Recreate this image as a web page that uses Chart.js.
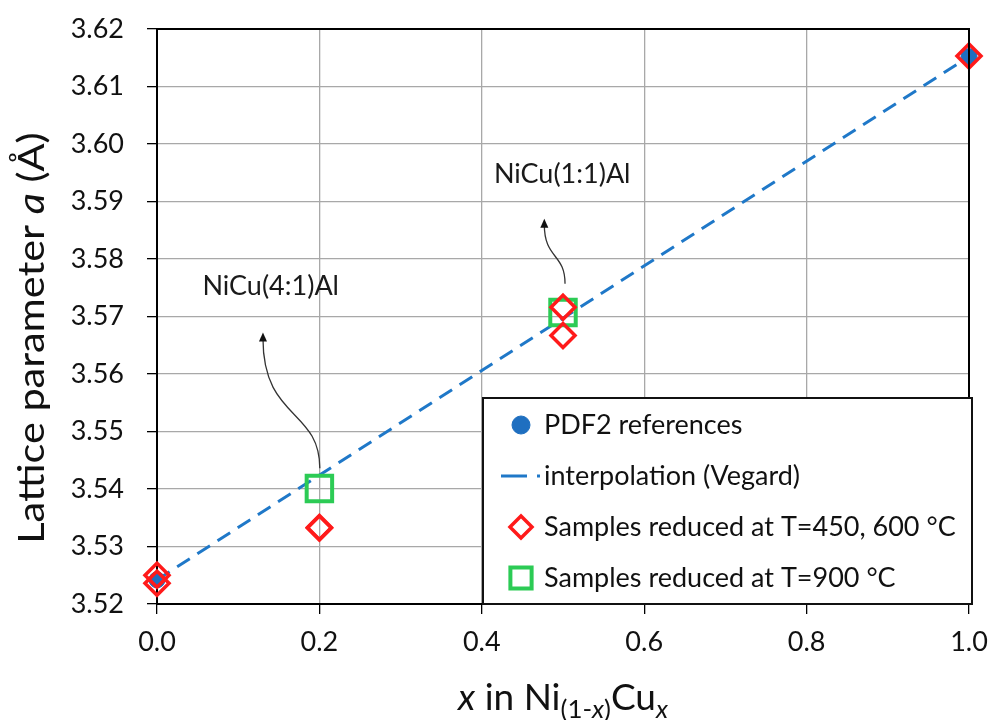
<!DOCTYPE html>
<html>
<head>
<meta charset="utf-8">
<script src="https://cdn.jsdelivr.net/npm/chart.js@4.4.0/dist/chart.umd.min.js"></script>
<style>
    html, body { margin: 0; padding: 0; background: #fff; }
</style>
</head>
<body>
<canvas id="latticeChart" width="995" height="720"></canvas>
<script>
// reference values (PDF2) and Vegard line between pure Ni and pure Cu
const refX = [0, 1];
const refY = [3.5242, 3.6152];
const vegardX = [0, 1];
const vegardY = [3.5242, 3.6152];
// samples reduced at 450 / 600 C
const lowTX = [0, 0, 0.2, 0.2, 0.5, 0.5, 1];
const lowTY = [3.5250, 3.5236, 3.5333, 3.5332, 3.5716, 3.5667, 3.6153];
// samples reduced at 900 C
const highTX = [0.2, 0.5];
const highTY = [3.5401, 3.5707];

const seriesNames = ['PDF2 references', 'interpolation (Vegard)', 'Samples reduced at T=450, 600 °C', 'Samples reduced at T=900 °C'];
const xTicks = [0, 0.2, 0.4, 0.6, 0.8, 1.0];
const yTicks = [3.52, 3.53, 3.54, 3.55, 3.56, 3.57, 3.58, 3.59, 3.60, 3.61, 3.62];

// annotation labels and curved arrows (data coords)
const noteText = ['NiCu(4:1)Al', 'NiCu(1:1)Al'];
const noteX = [0.140, 0.499];
const noteY = [3.5752, 3.5947];
const arrowPts = [
    [[0.2005, 3.5436], [0.2005, 3.5540], [0.1305, 3.5520], [0.1305, 3.5672]],
    [[0.5025, 3.5757], [0.5025, 3.5810], [0.4770, 3.5800], [0.4770, 3.5870]]
];

const FONT = 'Lato, "Open Sans", sans-serif';
const BLUE = '#1f6fc0';
const RED = '#ff1a1a';
const GREEN = '#2ccb55';

function pts(xs, ys) {
    return xs.map((x, i) => ({x: x, y: ys[i]}));
}

// draw a line of text made of parts {t, it, sub}
function richText(ctx, parts, x, y, size) {
    let widths = parts.map(p => {
        ctx.font = (p.it ? 'italic ' : '') + (p.sub ? size * 0.7 : size) + 'px ' + FONT;
        return ctx.measureText(p.t).width;
    });
    let total = widths.reduce((a, b) => a + b, 0);
    let cx = x - total / 2;
    ctx.textAlign = 'left';
    ctx.textBaseline = 'alphabetic';
    parts.forEach((p, i) => {
        ctx.font = (p.it ? 'italic ' : '') + (p.sub ? size * 0.7 : size) + 'px ' + FONT;
        ctx.fillText(p.t, cx, y + (p.sub ? size * 0.22 : 0));
        cx += widths[i];
    });
}

const decorPlugin = {
    id: 'decor',
    afterDraw(chart) {
        const ctx = chart.ctx;
        const ca = chart.chartArea;
        const xs = chart.scales.x, ys = chart.scales.y;
        ctx.save();

        // top and right frame
        ctx.strokeStyle = '#000';
        ctx.lineWidth = 2;
        ctx.beginPath();
        ctx.moveTo(ca.left, ca.top);
        ctx.lineTo(ca.right, ca.top);
        ctx.lineTo(ca.right, ca.bottom);
        ctx.stroke();

        // annotation arrows
        ctx.strokeStyle = '#333';
        ctx.fillStyle = '#111';
        ctx.lineWidth = 1.3;
        arrowPts.forEach(a => {
            let p = a.map(q => [xs.getPixelForValue(q[0]), ys.getPixelForValue(q[1])]);
            ctx.beginPath();
            ctx.moveTo(p[0][0], p[0][1]);
            ctx.bezierCurveTo(p[1][0], p[1][1], p[2][0], p[2][1], p[3][0], p[3][1] + 6);
            ctx.stroke();
            ctx.beginPath();
            ctx.moveTo(p[3][0], p[3][1]);
            ctx.lineTo(p[3][0] - 4, p[3][1] + 9);
            ctx.lineTo(p[3][0] + 4, p[3][1] + 9);
            ctx.closePath();
            ctx.fill();
        });

        // annotation texts
        ctx.fillStyle = '#1a1a1a';
        ctx.font = '27px ' + FONT;
        ctx.textAlign = 'center';
        ctx.textBaseline = 'middle';
        noteText.forEach((t, i) => {
            ctx.fillText(t, xs.getPixelForValue(noteX[i]), ys.getPixelForValue(noteY[i]));
        });

        // legend box
        let bx = ca.right - 486, by = ca.bottom - 206, bw = 489, bh = 206;
        ctx.fillStyle = '#fff';
        ctx.fillRect(bx, by, bw, bh);
        ctx.strokeStyle = '#111';
        ctx.lineWidth = 2;
        ctx.strokeRect(bx, by, bw, bh);
        chart.data.datasets.forEach((ds, i) => {
            let ry = by + 27 + i * 51;
            let mx = bx + 38;
            if (ds.showLine) {
                ctx.strokeStyle = ds.borderColor;
                ctx.lineWidth = 3;
                ctx.beginPath();
                ctx.moveTo(bx + 18, ry);
                ctx.lineTo(bx + 44, ry);
                ctx.moveTo(bx + 54, ry);
                ctx.lineTo(bx + 57, ry);
                ctx.stroke();
            } else {
                ctx.fillStyle = ds.backgroundColor;
                ctx.strokeStyle = ds.borderColor;
                ctx.lineWidth = ds.pointBorderWidth;
                let r = ds.pointStyle === 'circle' ? 9 : (ds.pointStyle === 'rect' ? 15 : 11);
                Chart.helpers.drawPoint(ctx, {pointStyle: ds.pointStyle, rotation: 0, radius: r, borderWidth: ds.pointBorderWidth}, mx, ry);
            }
            ctx.fillStyle = '#111';
            ctx.font = '27px ' + FONT;
            ctx.textAlign = 'left';
            ctx.textBaseline = 'middle';
            ctx.fillText(ds.label, bx + 61, ry);
        });

        // axis titles
        ctx.fillStyle = '#111';
        ctx.save();
        ctx.translate(44, 338);
        ctx.rotate(-Math.PI / 2);
        ctx.scale(1.12, 1);
        richText(ctx, [{t: 'Lattice parameter '}, {t: 'a', it: true}, {t: ' (Å)'}], 0, 0, 37);
        ctx.restore();
        richText(ctx, [{t: 'x', it: true}, {t: ' in Ni'}, {t: '(1-', sub: true}, {t: 'x', sub: true, it: true}, {t: ')', sub: true}, {t: 'Cu'}, {t: 'x', sub: true, it: true}], (ca.left + ca.right) / 2, 710, 37);

        ctx.restore();
    }
};

new Chart(document.getElementById('latticeChart').getContext('2d'), {
    type: 'scatter',
    data: {
        datasets: [{
            label: seriesNames[0],
            data: pts(refX, refY),
            pointStyle: 'circle',
            pointRadius: 8,
            backgroundColor: BLUE,
            borderColor: BLUE,
            pointBorderWidth: 1,
            clip: false,
            order: 3
        }, {
            label: seriesNames[1],
            data: pts(vegardX, vegardY),
            showLine: true,
            borderColor: '#1f78c8',
            borderWidth: 3,
            borderDash: [15, 9],
            pointRadius: 0,
            clip: false,
            order: 4
        }, {
            label: seriesNames[2],
            data: pts(lowTX, lowTY),
            pointStyle: 'rectRot',
            pointRadius: 12,
            backgroundColor: 'rgba(0,0,0,0)',
            borderColor: RED,
            pointBorderWidth: 3.5,
            clip: false,
            order: 1
        }, {
            label: seriesNames[3],
            data: pts(highTX, highTY),
            pointStyle: 'rect',
            pointRadius: 18,
            backgroundColor: 'rgba(0,0,0,0)',
            borderColor: GREEN,
            pointBorderWidth: 4,
            clip: false,
            order: 2
        }]
    },
    options: {
        responsive: false,
        animation: false,
        devicePixelRatio: 1,
        layout: {padding: {left: 0, top: 29, right: 26, bottom: 0}},
        plugins: {
            legend: {display: false},
            tooltip: {enabled: false}
        },
        scales: {
            x: {
                type: 'linear',
                min: 0,
                max: 1,
                afterFit: s => { s.height = 116; s.paddingLeft = 0; s.paddingRight = 0; },
                afterBuildTicks: s => { s.ticks = xTicks.map(v => ({value: v})); },
                ticks: {
                    color: '#111',
                    font: {family: FONT, size: 27},
                    padding: 12,
                    callback: v => v.toFixed(1)
                },
                grid: {color: '#a8a8a8', lineWidth: 1.3, tickColor: '#000', tickLength: 10},
                border: {color: '#000', width: 2}
            },
            y: {
                type: 'linear',
                min: 3.52,
                max: 3.62,
                afterFit: s => { s.width = 157; s.paddingTop = 0; s.paddingBottom = 0; },
                afterBuildTicks: s => { s.ticks = yTicks.map(v => ({value: v})); },
                ticks: {
                    color: '#111',
                    font: {family: FONT, size: 27},
                    padding: 23,
                    callback: v => v.toFixed(2)
                },
                grid: {color: '#a8a8a8', lineWidth: 1.3, tickColor: '#000', tickLength: 10},
                border: {color: '#000', width: 2}
            }
        }
    },
    plugins: [decorPlugin]
});
</script>
</body>
</html>
